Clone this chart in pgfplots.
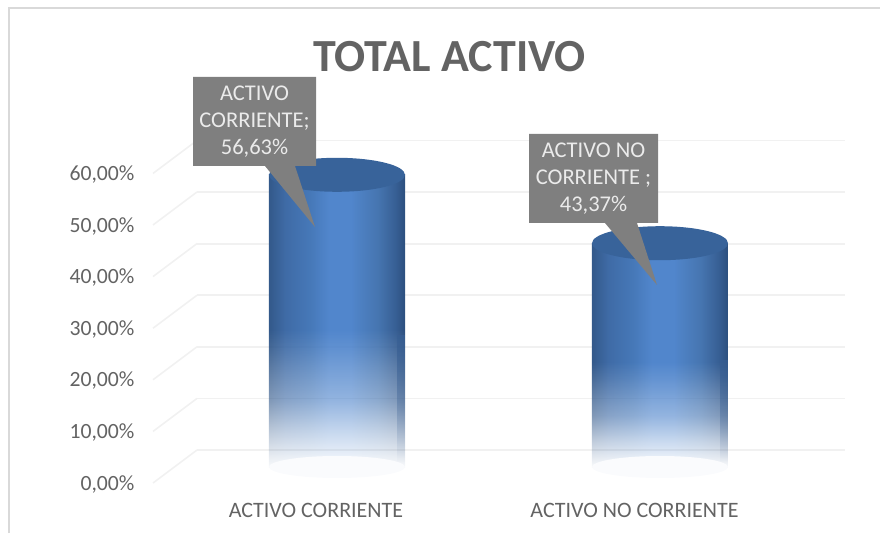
\documentclass[border=0pt]{standalone}
\usepackage{pgfplots}
\pgfplotsset{compat=1.18}
\usepackage{fontspec}
\setmainfont{Carlito}
\usetikzlibrary{fadings}
\definecolor{gridc}{HTML}{F1F1F1}
\definecolor{txt}{HTML}{636363}
\definecolor{callout}{HTML}{7F7F7F}
\definecolor{frame}{HTML}{D9D9D9}
\definecolor{cyltop}{HTML}{38639A}
\definecolor{cA}{HTML}{33598A}
\definecolor{cB}{HTML}{3F6BA6}
\definecolor{cC}{HTML}{4678B8}
\definecolor{cD}{HTML}{5186CC}
\definecolor{cE}{HTML}{4675B0}
\definecolor{cF}{HTML}{375F94}
\definecolor{cG}{HTML}{2C4F7E}
\pgfdeclarehorizontalshading{cylshade}{100bp}{
  color(0bp)=(cA);
  color(25bp)=(cA);
  color(31bp)=(cB);
  color(40bp)=(cC);
  color(47bp)=(cD);
  color(55bp)=(cD);
  color(65bp)=(cE);
  color(71.5bp)=(cF);
  color(75bp)=(cG);
  color(100bp)=(cG)}
\pgfdeclareverticalshading{cylfadeS}{100bp}{
  color(0bp)=(pgftransparent!97);
  color(25bp)=(pgftransparent!97);
  color(27bp)=(pgftransparent!88);
  color(31bp)=(pgftransparent!68);
  color(36.5bp)=(pgftransparent!38);
  color(45bp)=(pgftransparent!10);
  color(48.5bp)=(pgftransparent!0);
  color(100bp)=(pgftransparent!0)}
\pgfdeclarefading{cylfadeB}{\pgfuseshading{cylfadeS}}
\pgfdeclareplotmark{cyltopm}{\pgfsetfillcolor{cyltop}%
  \pgfpathellipse{\pgfpointorigin}{\pgfqpoint{68pt}{0pt}}{\pgfqpoint{0pt}{17pt}}\pgfusepathqfill}
\pgfdeclareplotmark{cylbase}{\pgfsetfillcolor{cD!3!white}%
  \pgfpathellipse{\pgfpointorigin}{\pgfqpoint{68pt}{0pt}}{\pgfqpoint{0pt}{11pt}}\pgfusepathqfill}
\begin{document}
\begin{tikzpicture}[x=1pt,y=1pt]
\path[use as bounding box] (0,0) rectangle (880,533);
% outer frame
\draw[frame,line width=1.6pt] (9,0) -- (9,525) -- (880,525);
% title
\node[txt,font=\fontsize{46}{50}\selectfont\bfseries] at (449.5,533-57) {TOTAL ACTIVO};
% back wall axis
\begin{axis}[
  at={(197pt,83pt)},anchor=south west,
  scale only axis,width=648pt,height=309.6pt,
  xmin=0,xmax=1,ymin=0,ymax=60,
  axis line style={draw=none},
  ytick={0,10,...,60},
  yticklabels={{0,00\%},{10,00\%},{20,00\%},{30,00\%},{40,00\%},{50,00\%},{60,00\%}},
  yticklabel style={font=\fontsize{21.7}{24}\selectfont,text=txt,xshift=-59pt,yshift=-34pt},
  /pgf/number format/assume math mode=true,
  xtick=\empty,
  major tick length=0pt,
  ymajorgrids,
  grid style={draw=gridc,line width=1.8pt},
  clip=false]
\addplot[draw=none] coordinates {(0,0)(1,60)};
\end{axis}
% diagonals
\foreach \v in {0,1,...,6}{
  \draw[gridc,line width=1.6pt] (197,83+\v*51.6) -- (153,50+\v*51.6);
}
% bars
\begin{axis}[
  at={(197pt,66pt)},anchor=south west,
  scale only axis,width=648pt,height=309.6pt,
  xmin=-0.4334,xmax=1.5728,ymin=0,ymax=60,
  axis line style={draw=none},
  ytick=\empty,
  xtick={0,1},
  xticklabels={ACTIVO CORRIENTE,ACTIVO NO CORRIENTE\hspace*{9pt}},
  xticklabel style={font=\fontsize{22}{24}\selectfont,text=txt,xshift=-21pt,yshift=-33pt},
  major tick length=0pt,
  clip=false]
\addplot[only marks,mark=cylbase] coordinates {(0,0)(1,0)};
\addplot[ybar,bar shift=0pt,bar width=136pt,draw=none,shading=cylshade,path fading=cylfadeB,fit fading=true] coordinates {(0,56.63)};
\addplot[ybar,bar shift=0pt,bar width=136pt,draw=none,shading=cylshade,path fading=cylfadeB,fit fading=true] coordinates {(1,43.37)};
\addplot[only marks,mark=cyltopm] coordinates {(0,56.63)(1,43.37)};
\end{axis}
% darker right-hand strip of each cylinder's faded part
\fill[cF,opacity=.7,path fading=south] (397,533-462) rectangle (405,533-335);
\fill[cF,opacity=.7,path fading=south] (720,533-462) rectangle (728,533-360);
% callouts
\fill[callout] (193,533-77) -- (316,533-77) -- (316,533-166) -- (295,533-166) -- (315,533-227) -- (265,533-166) -- (193,533-166) -- cycle;
\node[text=white!92!black,align=center,font=\fontsize{22.5}{27}\selectfont] at (254.5,533-122) {ACTIVO\\CORRIENTE;\\56,63\%};
\fill[callout] (529,533-134) -- (658,533-134) -- (658,533-223) -- (637,533-223) -- (657,533-285) -- (605,533-223) -- (529,533-223) -- cycle;
\node[text=white!92!black,align=center,font=\fontsize{22.5}{27}\selectfont] at (593.5,533-179) {ACTIVO NO\\CORRIENTE ;\\43,37\%};
\end{tikzpicture}
\end{document}
